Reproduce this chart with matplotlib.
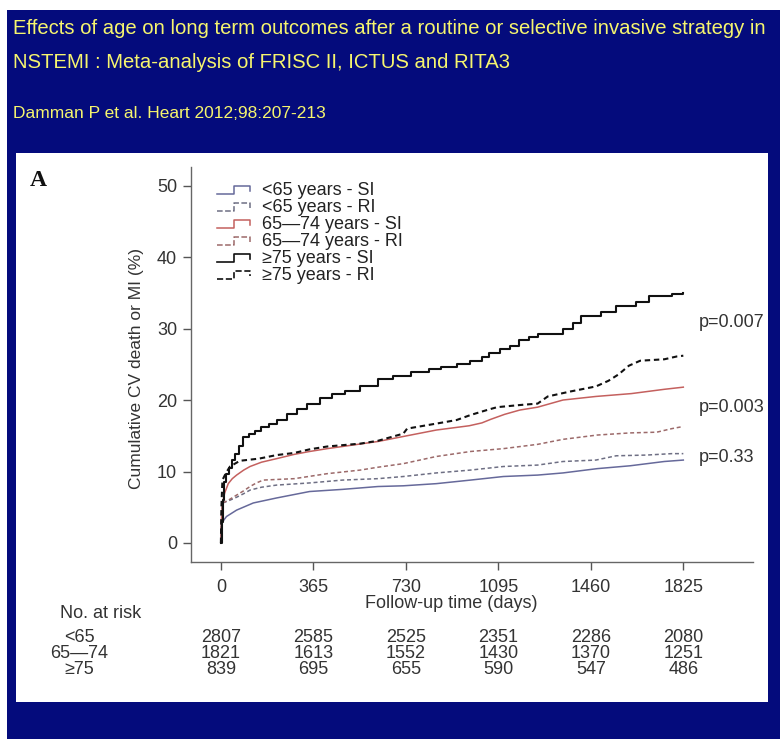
import numpy as np
import matplotlib
matplotlib.use("Agg")
import matplotlib.pyplot as plt
import matplotlib.transforms as mtransforms
from matplotlib.patches import Rectangle
from matplotlib.lines import Line2D
from matplotlib.legend_handler import HandlerBase

plt.rcParams['font.family'] = ['Liberation Sans', 'DejaVu Sans']

# ---- data (days, cumulative %) ----
t_lt65_si = [0, 3, 22, 62, 128, 220, 350, 480, 620, 720, 850, 985, 1115, 1250, 1350, 1485, 1615, 1750, 1825]
v_lt65_si = [0, 2.8, 3.7, 4.6, 5.6, 6.3, 7.2, 7.5, 7.9, 8.0, 8.3, 8.8, 9.3, 9.5, 9.8, 10.4, 10.8, 11.4, 11.6]

t_lt65_ri = [0, 3, 7, 30, 62, 90, 115, 160, 220, 350, 480, 620, 720, 850, 985, 1115, 1250, 1350, 1480, 1560, 1680, 1780, 1825]
v_lt65_ri = [0, 4.0, 5.6, 5.9, 6.4, 6.9, 7.4, 7.8, 8.1, 8.4, 8.8, 9.0, 9.3, 9.8, 10.2, 10.7, 10.9, 11.4, 11.6, 12.2, 12.3, 12.5, 12.5]

t_mid_si = [0, 3, 6, 15, 29, 45, 62, 90, 115, 160, 220, 290, 350, 420, 480, 560, 620, 720, 850, 980, 1030, 1065, 1120, 1180, 1250, 1350, 1480, 1620, 1750, 1825]
v_mid_si = [0, 4.0, 5.6, 7.0, 8.3, 9.0, 9.5, 10.2, 10.7, 11.3, 11.8, 12.4, 12.8, 13.2, 13.5, 13.9, 14.2, 14.9, 15.8, 16.4, 16.8, 17.3, 18.0, 18.6, 19.0, 20.0, 20.5, 20.9, 21.5, 21.8]

t_mid_ri = [0, 3, 7, 30, 62, 90, 115, 140, 167, 290, 420, 550, 620, 720, 850, 985, 1115, 1250, 1350, 1485, 1615, 1720, 1780, 1825]
v_mid_ri = [0, 4.0, 5.6, 6.0, 6.7, 7.3, 7.9, 8.4, 8.8, 9.0, 9.7, 10.2, 10.6, 11.1, 12.1, 12.8, 13.2, 13.8, 14.5, 15.1, 15.4, 15.5, 16.0, 16.3]

t_old_si = [0, 3, 8, 14, 20, 30, 42, 55, 70, 88, 110, 135, 160, 190, 220, 260, 300, 340, 390, 440, 490, 550, 620, 680, 750, 820, 870, 930, 985, 1030, 1060, 1100, 1140, 1175, 1215, 1250, 1330, 1350, 1390, 1420, 1500, 1560, 1640, 1690, 1780, 1825]
v_old_si = [0, 3.0, 6.0, 8.5, 9.6, 10.5, 11.6, 12.5, 13.6, 14.8, 15.2, 15.7, 16.2, 16.7, 17.2, 18.0, 18.8, 19.5, 20.3, 20.8, 21.2, 22.0, 22.9, 23.3, 23.9, 24.3, 24.6, 25.0, 25.4, 26.0, 26.6, 27.2, 27.6, 28.4, 28.8, 29.3, 29.3, 30.0, 30.8, 31.8, 32.3, 33.2, 33.7, 34.6, 34.8, 35.0]

t_old_ri = [0, 2, 6, 20, 36, 75, 150, 220, 290, 350, 420, 550, 620, 720, 735, 850, 930, 985, 1050, 1090, 1180, 1250, 1290, 1380, 1480, 1530, 1570, 1610, 1655, 1750, 1800, 1825]
v_old_ri = [0, 5.0, 8.8, 9.8, 10.7, 11.5, 11.8, 12.3, 12.6, 13.1, 13.5, 13.9, 14.3, 15.3, 16.0, 16.7, 17.2, 17.9, 18.6, 19.0, 19.3, 19.5, 20.5, 21.2, 21.9, 22.7, 23.6, 24.8, 25.5, 25.7, 26.1, 26.2]

labels = ['<65 years - SI', '<65 years - RI', '65\u201474 years - SI',
          '65\u201474 years - RI', '\u226575 years - SI', '\u226575 years - RI']

p_labels = ['p=0.007', 'p=0.003', 'p=0.33']
p_ypos = [30.9, 19.0, 12.0]

risk_times = [0, 365, 730, 1095, 1460, 1825]
risk_groups = ['<65', '65\u201474', '\u226575']
risk_lt65 = [2807, 2585, 2525, 2351, 2286, 2080]
risk_mid = [1821, 1613, 1552, 1430, 1370, 1251]
risk_old = [839, 695, 655, 590, 547, 486]

title_1 = 'Effects of age on long term outcomes after a routine or selective invasive strategy in'
title_2 = 'NSTEMI : Meta-analysis of FRISC II, ICTUS and RITA3'
citation = 'Damman P et al. Heart 2012;98:207-213'

NAVY = '#040b7c'
YELLOW = '#f6f56e'
DASH = (0, (2.6, 1.8))
FS = 13

# (times, values, colour, linestyle, width, drawstyle)
series = [
    (t_lt65_si, v_lt65_si, '#66699a', '-', 1.1, 'default'),
    (t_lt65_ri, v_lt65_ri, '#6e6f84', DASH, 1.1, 'default'),
    (t_mid_si, v_mid_si, '#c4605e', '-', 1.1, 'default'),
    (t_mid_ri, v_mid_ri, '#9c6a6a', DASH, 1.1, 'default'),
    (t_old_si, v_old_si, '#111111', '-', 1.5, 'steps-post'),
    (t_old_ri, v_old_ri, '#111111', DASH, 1.5, 'default'),
]


class StepHandler(HandlerBase):
    """legend glyph drawn as a small km-style step"""
    def create_artists(self, legend, orig_handle, xdescent, ydescent, width, height, fontsize, trans):
        xs = np.array([0, 0.5, 0.5, 1.0, 1.0]) * width - xdescent
        ys = np.array([0.1, 0.1, 0.75, 0.75, 0.35]) * height - ydescent
        line = Line2D(xs, ys, color=orig_handle.get_color(), linestyle=orig_handle.get_linestyle(),
                      linewidth=min(orig_handle.get_linewidth(), 1.2))
        line.set_transform(trans)
        return [line]


W, H = 780, 739
fig = plt.figure(figsize=(W / 100, H / 100), dpi=100, facecolor='white')


def fx(px):
    return px / W


def fy(py):
    return 1 - py / H


# slide background and white chart panel
fig.patches.append(Rectangle((fx(7), 0), 1 - fx(7), fy(10), transform=fig.transFigure,
                             facecolor=NAVY, edgecolor='none', zorder=0))
fig.patches.append(Rectangle((fx(16), fy(702)), fx(768) - fx(16), fy(153) - fy(702),
                             transform=fig.transFigure, facecolor='white', edgecolor='none', zorder=1))

fig.text(fx(13), fy(28), title_1, color=YELLOW, fontsize=14.6, va='center', ha='left')
fig.text(fx(13), fy(62), title_2, color=YELLOW, fontsize=14.6, va='center', ha='left')
fig.text(fx(13), fy(114), citation, color=YELLOW, fontsize=12.5, va='center', ha='left')

ax = fig.add_axes([fx(191), fy(562), fx(753) - fx(191), fy(167) - fy(562)])
ax.set_facecolor('none')
ax.set_zorder(2)

handles = []
for (t, v, c, ls, lw, ds), lab in zip(series, labels):
    h, = ax.plot(t, v, drawstyle=ds, color=c, linestyle=ls, linewidth=lw, label=lab)
    handles.append(h)

ax.set_xlim(-118, 2100)
ax.set_ylim(-2.66, 52.6)
ax.set_xticks(risk_times)
ax.set_yticks([0, 10, 20, 30, 40, 50])
for s in ['top', 'right']:
    ax.spines[s].set_visible(False)
for s in ['left', 'bottom']:
    ax.spines[s].set_color('#666666')
    ax.spines[s].set_linewidth(1.0)
ax.tick_params(axis='both', direction='out', length=6, width=1, color='#555555',
               labelsize=FS, labelcolor='#333333')
ax.tick_params(axis='y', pad=4)
ax.tick_params(axis='x', pad=6)

ax.text(-0.097, 0.49, 'Cumulative CV death or MI (%)', transform=ax.transAxes, rotation=90,
        ha='center', va='center', fontsize=12.5, color='#333333')
fig.text(fx(451.5), fy(603), 'Follow-up time (days)', ha='center', va='center', fontsize=FS, color='#333333')

ax.legend(handles=handles, handler_map={Line2D: StepHandler()}, loc='upper left',
          bbox_to_anchor=(0.046, 0.961), frameon=False, fontsize=FS, handlelength=1.85,
          handletextpad=0.67, labelspacing=0.0, borderpad=0, borderaxespad=0,
          labelcolor='#222222')

for lab, y in zip(p_labels, p_ypos):
    ax.text(1888, y, lab, ha='left', va='center', fontsize=FS, color='#333333', clip_on=False)

# panel letter
fig.text(fx(30), fy(181), 'A', family=['Liberation Serif', 'DejaVu Serif'], fontweight='bold',
         fontsize=17, color='#111111', ha='left', va='center')

# number at risk table
fig.text(fx(60), fy(613), 'No. at risk', ha='left', va='center', fontsize=FS, color='#333333')
row_y = [637, 653, 669]
xform = mtransforms.blended_transform_factory(ax.transData, fig.transFigure)
for grp, counts, py in zip(risk_groups, [risk_lt65, risk_mid, risk_old], row_y):
    fig.text(fx(79), fy(py), grp, ha='center', va='center', fontsize=FS, color='#333333')
    for tt, n in zip(risk_times, counts):
        ax.text(tt, fy(py), str(n), transform=xform, ha='center', va='center',
                fontsize=FS, color='#333333', clip_on=False)

fig.savefig('out.png', dpi=100, facecolor=fig.get_facecolor())
